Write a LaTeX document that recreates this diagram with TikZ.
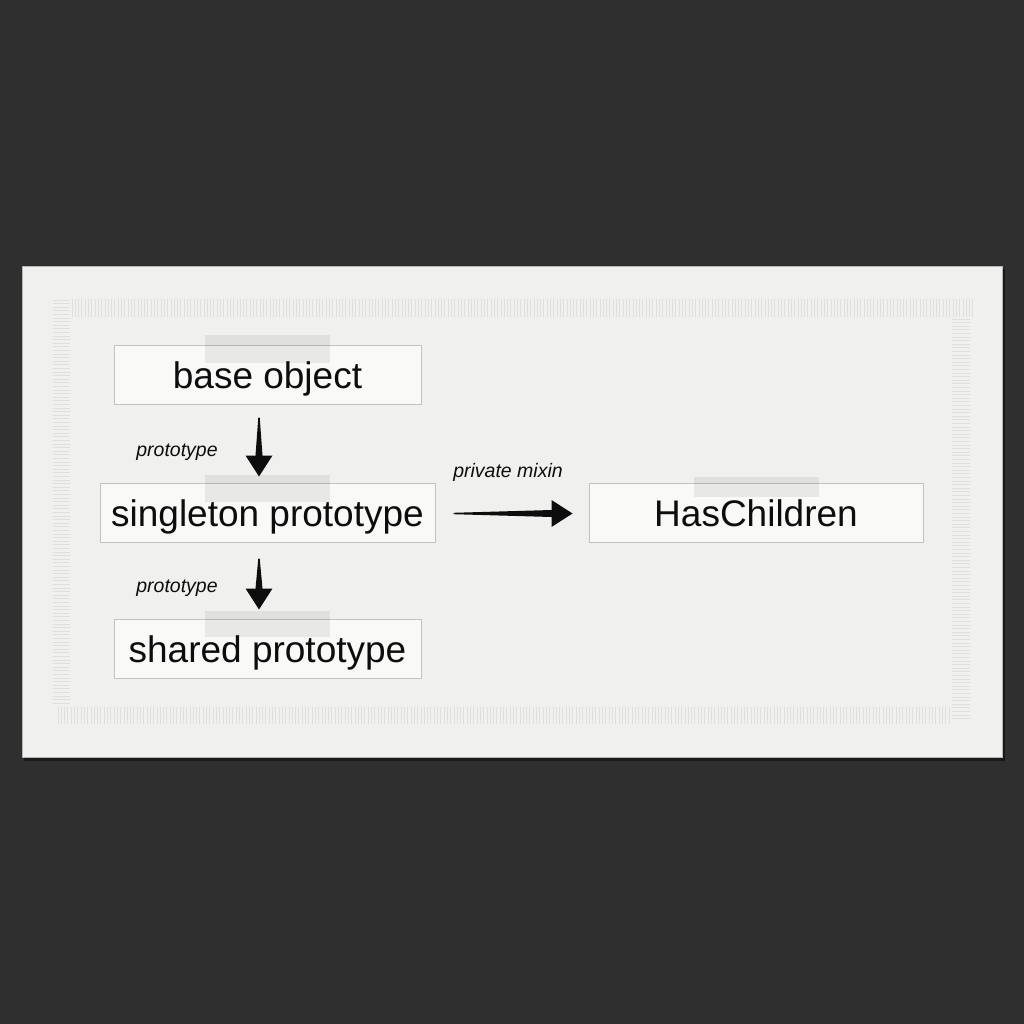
\documentclass[tikz,border=0pt]{standalone}
\usepackage{fontspec}
\setmainfont{Liberation Sans}
\usetikzlibrary{calc}
\definecolor{bgdark}{HTML}{2F2F2F}
\definecolor{paper}{HTML}{F0F0EE}
\definecolor{paperedge}{HTML}{B8B8B6}
\definecolor{stripe}{HTML}{DFDFDD}
\definecolor{boxfill}{HTML}{F9F9F8}
\definecolor{boxline}{HTML}{C2C2C0}
\definecolor{ink}{HTML}{0D0D0D}
\newcommand{\taperarrow}[2]{%
  \coordinate (tmpH) at ($(#2)!21pt!(#1)$);
  \fill[ink] ($(#1)!0.7pt!90:(#2)$) -- ($(tmpH)!3.5pt!90:(#2)$) -- ($(tmpH)!13.5pt!90:(#2)$) -- (#2)
    -- ($(tmpH)!13.5pt!-90:(#2)$) -- ($(tmpH)!3.5pt!-90:(#2)$) -- ($(#1)!0.7pt!-90:(#2)$) -- cycle;}
\tikzset{
  box/.style={draw=boxline, line width=1pt, fill=boxfill, inner sep=0pt, minimum height=59pt,
    text height=27pt, text depth=0pt, text=ink, font=\fontsize{37}{42}\selectfont},
  tape/.style={fill=black, opacity=0.065},
  edgelabel/.style={inner sep=0pt, text=ink, font=\fontsize{19.5}{22}\selectfont\itshape},
  stripeline/.style={draw=stripe, line width=0.9pt}
}
\begin{document}
\begin{tikzpicture}[x=1pt,y=-1pt]
\useasboundingbox (0,0) rectangle (1024,1024);
\fill[bgdark] (0,0) rectangle (1024,1024);
% panel with shadow
\fill[black, opacity=0.45] (24,269) rectangle (1005,761);
\fill[paper] (22,266) rectangle (1002,757);
\draw[paperedge, line width=0.8pt] (22,266) rectangle (1002,757);
% paper texture bands
\foreach \x in {72,75.3,...,975} \draw[stripeline] (\x,299) -- (\x,317);
\foreach \x in {58,61.3,...,950} \draw[stripeline] (\x,707) -- (\x,724);
\foreach \y in {300,303.6,...,705} \draw[stripeline] (53,\y) -- (70,\y);
\foreach \y in {319,322.6,...,722} \draw[stripeline] (952,\y) -- (970,\y);
% boxes
\node[box, minimum width=307pt] (base) at (267.5,374.5) {base object};
\node[box, minimum width=335pt] (single) at (267.5,512.5) {singleton prototype};
\node[box, minimum width=307pt] (shared) at (267.5,648.5) {shared prototype};
\node[box, minimum width=334pt] (hc) at (756,512.5) {HasChildren};
% tapes
\fill[tape] ($(base.north)+(-62.5,-10)$) rectangle ($(base.north)+(62.5,18)$);
\fill[tape] ($(single.north)+(-62.5,-8)$) rectangle ($(single.north)+(62.5,19)$);
\fill[tape] ($(shared.north)+(-62.5,-8)$) rectangle ($(shared.north)+(62.5,18)$);
\fill[tape] ($(hc.north)+(-62.5,-6)$) rectangle ($(hc.north)+(62.5,14)$);
% connectors
\coordinate (a1s) at ($(base.south)+(-8.5,13)$);
\coordinate (a1e) at ($(single.north)+(-8.5,-6)$);
\coordinate (a2s) at ($(single.south)+(-8.5,16)$);
\coordinate (a2e) at ($(shared.north)+(-8.5,-9)$);
\coordinate (a3s) at ($(single.east)+(18,1)$);
\coordinate (a3e) at ($(hc.west)+(-16,1)$);
\taperarrow{a1s}{a1e}
\taperarrow{a2s}{a2e}
\taperarrow{a3s}{a3e}
% labels
\node[edgelabel] (l1) at (177,452) {prototype};
\node[edgelabel] (l2) at (177,588) {prototype};
\node[edgelabel] (l3) at (508,472) {private mixin};
\end{tikzpicture}
\end{document}
